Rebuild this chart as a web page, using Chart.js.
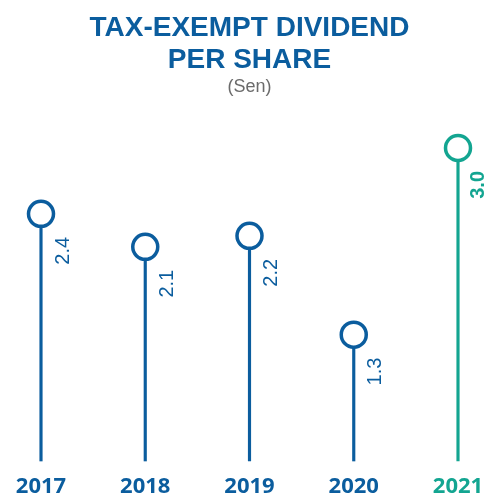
<!DOCTYPE html>
<html>
<head>
<meta charset="utf-8">
<script src="https://cdn.jsdelivr.net/npm/chart.js@4"></script>
<style>
  body { margin: 0; background: #fff; }
  #wrap { width: 488px; height: 498px; position: relative; }
</style>
</head>
<body>
<div id="wrap"><canvas id="chart"></canvas></div>
<script>
'use strict';

var years = ['2017', '2018', '2019', '2020', '2021'];
var dividends = [2.4, 2.1, 2.2, 1.3, 3.0];
var titleLines = ['TAX-EXEMPT DIVIDEND', 'PER SHARE'];
var unitLabel = '(Sen)';

var BLUE = '#0b5d9e';
var TEAL = '#13a591';
var Y_MIN = 0.15;
var Y_MAX = 3.3;

// last year gets highlighted
var colors = years.map(function (y, i) {
  return i === years.length - 1 ? TEAL : BLUE;
});

// rotated value labels next to each stem
var valueLabels = {
  id: 'valueLabels',
  afterDatasetsDraw: function (chart) {
    var ctx = chart.ctx;
    var meta = chart.getDatasetMeta(1);
    meta.data.forEach(function (pt, i) {
      var last = i === dividends.length - 1;
      ctx.save();
      ctx.translate(pt.x + (last ? 20 : 22), pt.y + 23);
      ctx.rotate(-Math.PI / 2);
      ctx.font = (last ? 'bold 20px' : '20px') + ' "Liberation Sans", Arial, sans-serif';
      ctx.fillStyle = colors[i];
      ctx.textAlign = 'right';
      ctx.textBaseline = 'middle';
      ctx.fillText(dividends[i].toFixed(1), 0, 0);
      ctx.restore();
    });
  }
};

var ctx = document.getElementById('chart').getContext('2d');

var chart = new Chart(ctx, {
  type: 'bar',
  data: {
    labels: years,
    datasets: [{
      // stems
      type: 'bar',
      data: dividends,
      backgroundColor: colors,
      barThickness: 2.5,
      base: Y_MIN,
      clip: false,
      order: 1
    }, {
      // circles on top
      type: 'line',
      data: dividends,
      showLine: false,
      pointRadius: 12.5,
      pointHoverRadius: 12.5,
      pointBorderWidth: 3.5,
      pointBackgroundColor: '#fff',
      pointBorderColor: colors,
      clip: false,
      order: 0
    }]
  },
  options: {
    responsive: true,
    maintainAspectRatio: false,
    animation: false,
    events: [],
    layout: {
      padding: { left: 41, right: 30, top: 0, bottom: 0 }
    },
    plugins: {
      legend: { display: false },
      tooltip: { enabled: false },
      title: {
        display: true,
        text: titleLines,
        color: BLUE,
        font: { family: '"Liberation Sans", Arial, sans-serif', size: 28, weight: 'bold', lineHeight: 32 / 28 },
        padding: { top: 12, bottom: 0 }
      },
      subtitle: {
        display: true,
        text: unitLabel,
        color: '#6b6b6b',
        font: { family: '"Liberation Sans", Arial, sans-serif', size: 18, lineHeight: 1.2 },
        padding: { top: 0.5, bottom: 16.9 }
      }
    },
    scales: {
      x: {
        offset: false,
        grid: { display: false, drawTicks: false },
        border: { display: false },
        ticks: {
          autoSkip: false,
          maxRotation: 0,
          padding: 15,
          color: function (c) { return colors[c.index]; },
          font: { family: '"Open Sans", sans-serif', size: 22, weight: 'bold', lineHeight: 1 }
        },
        // keep the year row tight under the stems
        afterFit: function (s) {
          s.paddingLeft = 0;
          s.paddingRight = 0;
          s.height = 37;
        }
      },
      y: {
        display: false,
        min: Y_MIN,
        max: Y_MAX
      }
    }
  },
  plugins: [valueLabels]
});
</script>
</body>
</html>
